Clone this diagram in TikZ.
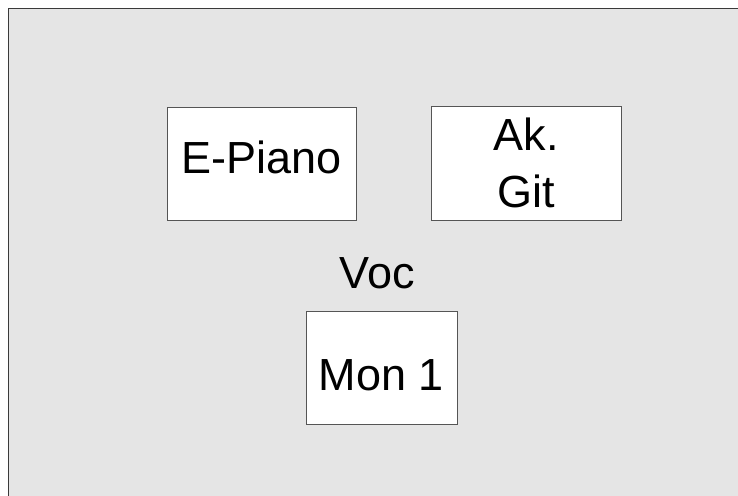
\documentclass[tikz,border=0pt]{standalone}
\usepackage{fontspec}
\setmainfont{Liberation Sans}
\definecolor{bggray}{HTML}{E5E5E5}
\definecolor{edgegray}{HTML}{3A3A3A}
\definecolor{boxedge}{HTML}{555555}
\begin{document}
\begin{tikzpicture}[x=1pt,y=-1pt,
  bigtext/.style={font=\fontsize{45}{57}\selectfont},
  instbox/.style={draw=boxedge,line width=1pt,fill=white,bigtext,inner sep=0pt,align=center},
  freelabel/.style={bigtext,inner sep=0pt,anchor=base}]
\useasboundingbox (0,0) rectangle (738,495);
\fill[white] (0,0) rectangle (738,495);
\draw[edgegray,line width=1.4pt,fill=bggray] (8.5,8.5) rectangle (745,505);
\node[instbox,minimum width=189pt,minimum height=113pt,text height=32pt,text depth=12pt] (epiano) at (261.5,163.5) {E-Piano};
\node[instbox,minimum width=189.5pt,minimum height=114pt] (akgit) at (526.25,163) {Ak.\\Git};
\node[instbox,minimum width=151pt,minimum height=113pt,text height=45pt,text depth=0pt] (mon) at (381.5,367.5) {Mon 1};
\node[freelabel] (voc) at (377.5,288) {Voc};
\end{tikzpicture}
\end{document}
